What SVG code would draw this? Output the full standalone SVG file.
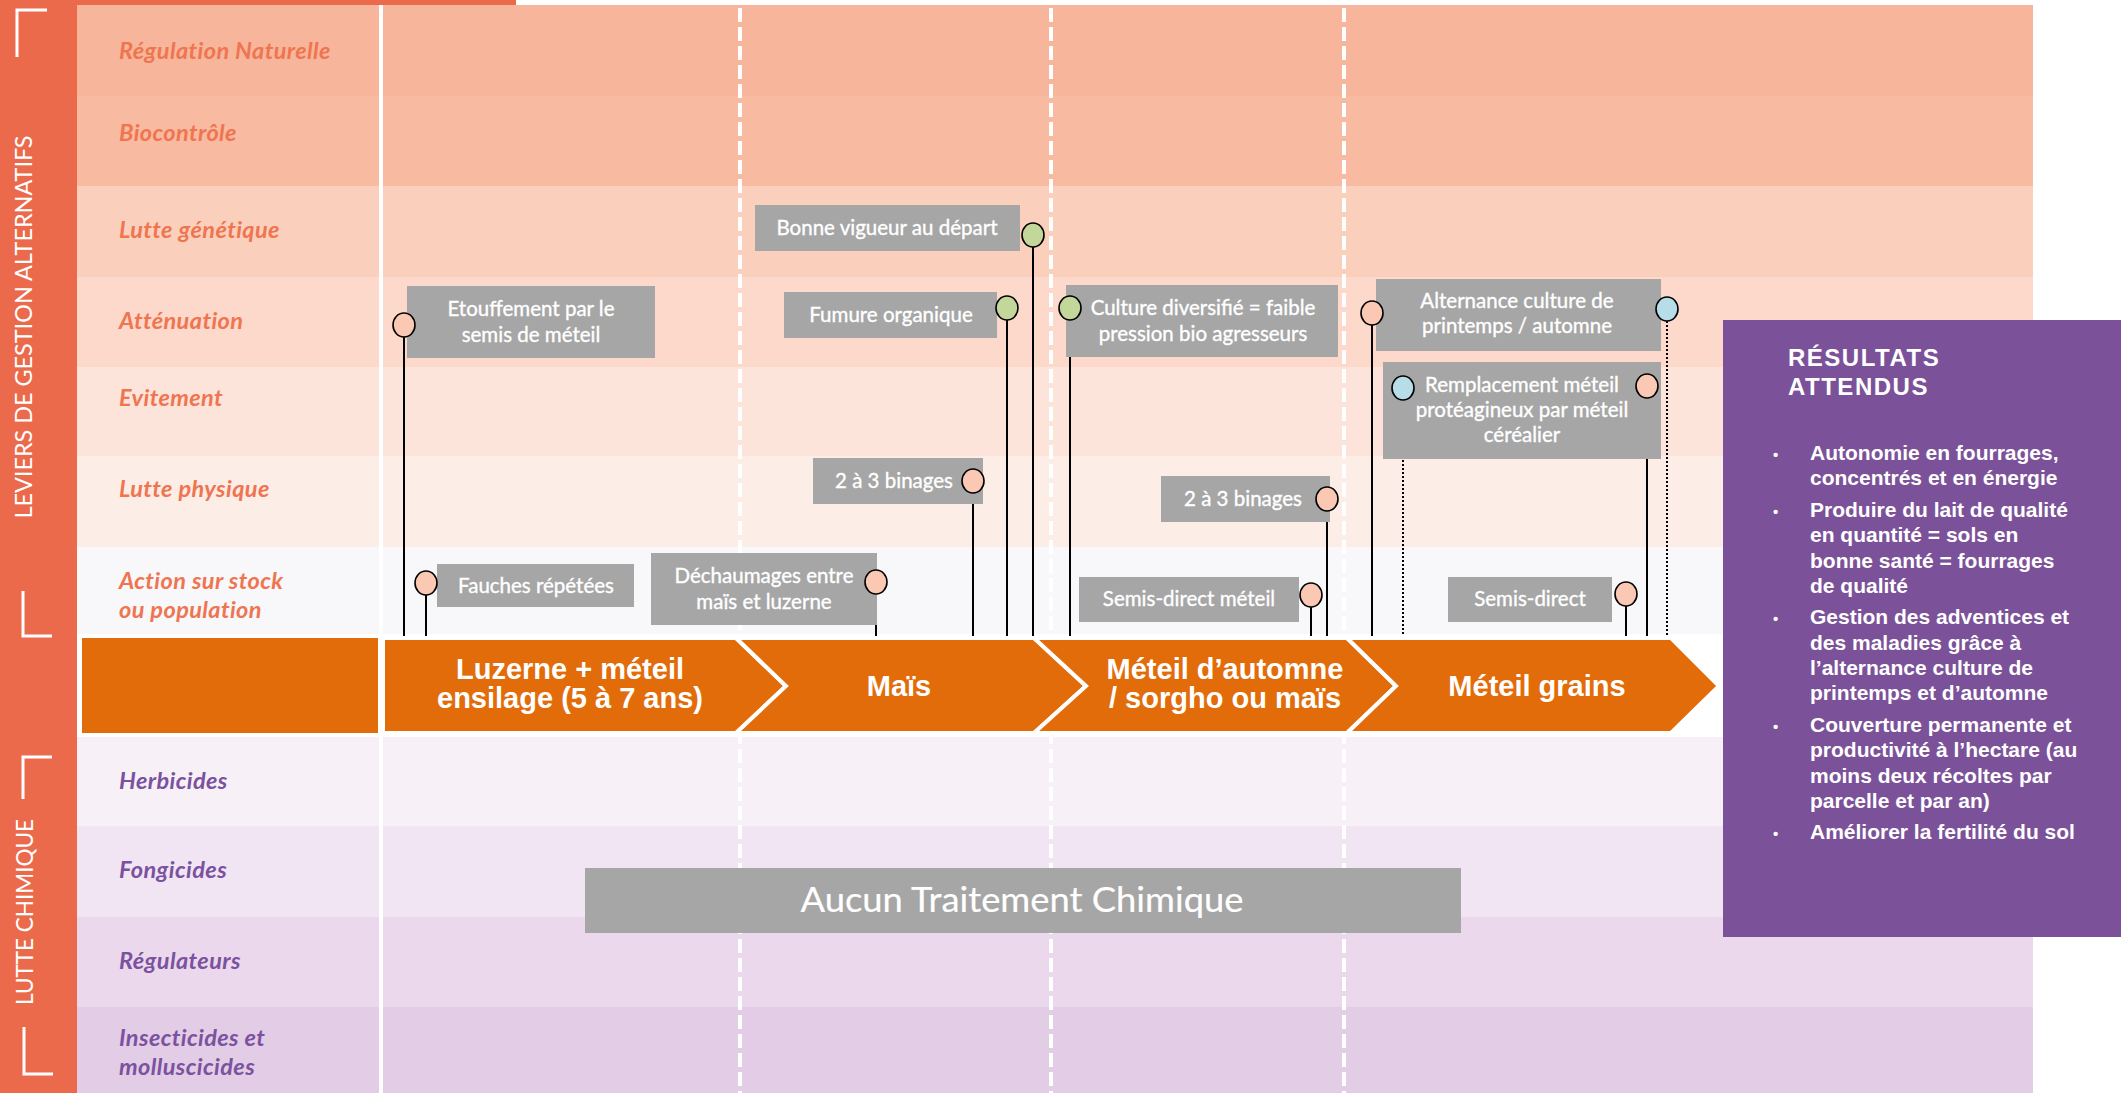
<svg xmlns="http://www.w3.org/2000/svg" width="2121" height="1093" viewBox="0 0 2121 1093">
<defs>
<style>
.lbl{font-family:Lato,"Open Sans",sans-serif;font-style:italic;font-weight:700;font-size:23.5px;letter-spacing:0.4px}
.lo{fill:#EF7550}
.lp{fill:#7A52A0}
.side{font-family:Lato,"Open Sans",sans-serif;font-size:23px;fill:#fff;text-anchor:middle}
.brk{fill:none;stroke:#fff;stroke-width:3}
.dash{stroke:#fff;stroke-width:4;stroke-dasharray:14 5}
.chev{fill:#E36C0A;stroke:#fff;stroke-width:4;stroke-linejoin:miter}
.ct{font-family:"Liberation Sans",Arial,sans-serif;font-weight:700;font-size:29px;fill:#fff;text-anchor:middle}
.box{fill:#A6A6A6}
.bt{font-family:Lato,"Open Sans",sans-serif;font-size:20.5px;fill:#fff;stroke:#fff;stroke-width:0.35;text-anchor:middle}
.ln{stroke:#000;stroke-width:2;fill:none}
.dot{stroke:#000;stroke-width:2;stroke-dasharray:2 2;fill:none}
.pk{fill:#FAC8B3;stroke:#000;stroke-width:1.6}
.gr{fill:#C4D79B;stroke:#000;stroke-width:1.6}
.bl{fill:#B7DDE8;stroke:#000;stroke-width:1.6}
.rt{font-family:"Liberation Sans",Arial,sans-serif;font-weight:700;fill:#fff}
</style>
</defs>
<rect x="0" y="0" width="2121" height="1093" fill="#fff"/>
<g id="rows">
<rect x="77" y="5" width="1956" height="91" fill="#F7B69B"/>
<rect x="77" y="96" width="1956" height="90" fill="#F8BAA0"/>
<rect x="77" y="186" width="1956" height="91" fill="#FAD0BD"/>
<rect x="77" y="277" width="1956" height="90" fill="#FCD9CA"/>
<rect x="77" y="367" width="1956" height="89" fill="#FDE4DB"/>
<rect x="77" y="456" width="1956" height="91" fill="#FCEDE6"/>
<rect x="77" y="547" width="1956" height="87" fill="#F8F7FA"/>
<rect x="77" y="737" width="1956" height="89" fill="#F7F0F7"/>
<rect x="77" y="826" width="1956" height="91" fill="#F1E5F3"/>
<rect x="77" y="917" width="1956" height="90" fill="#EBD8EC"/>
<rect x="77" y="1007" width="1956" height="86" fill="#E3CCE5"/>
</g>
<g id="side-bar">
<rect x="0" y="0" width="77" height="1093" fill="#EC6A4C"/>
<rect x="0" y="0" width="516" height="5" fill="#EC6A4C"/>
<path class="brk" d="M47,10 H17 V57"/>
<path class="brk" d="M23,591 V636 H52"/>
<path class="brk" d="M52,757 H23 V799"/>
<path class="brk" d="M24,1027 V1074 H53"/>
<text class="side" transform="translate(32,327) rotate(-90)" textLength="383" lengthAdjust="spacingAndGlyphs">LEVIERS DE GESTION ALTERNATIFS</text>
<text class="side" transform="translate(33,912) rotate(-90)" textLength="186" lengthAdjust="spacingAndGlyphs">LUTTE CHIMIQUE</text>
</g>
<g id="row-labels">
<text class="lbl lo" x="119" y="59">Régulation Naturelle</text>
<text class="lbl lo" x="119" y="141">Biocontrôle</text>
<text class="lbl lo" x="119" y="238">Lutte génétique</text>
<text class="lbl lo" x="119" y="329">Atténuation</text>
<text class="lbl lo" x="119" y="406">Evitement</text>
<text class="lbl lo" x="119" y="497">Lutte physique</text>
<text class="lbl lo" x="119" y="589">Action sur stock</text>
<text class="lbl lo" x="119" y="618">ou population</text>
<text class="lbl lp" x="119" y="789">Herbicides</text>
<text class="lbl lp" x="119" y="878">Fongicides</text>
<text class="lbl lp" x="119" y="969">Régulateurs</text>
<text class="lbl lp" x="119" y="1046">Insecticides et</text>
<text class="lbl lp" x="119" y="1075">molluscicides</text>
</g>
<g id="separators">
<line class="dash" x1="740" y1="8" x2="740" y2="1093"/>
<line class="dash" x1="1051" y1="8" x2="1051" y2="1093"/>
<line class="dash" x1="1344" y1="8" x2="1344" y2="1093"/>
<line x1="381" y1="5" x2="381" y2="1093" stroke="#fff" stroke-width="4"/>
</g>
<g id="timeline">
<rect x="79" y="636" width="1646" height="100" fill="#fff"/>
<rect x="82" y="638" width="296" height="95" fill="#E36C0A"/>
<g id="crop-luzerne">
<polygon class="chev" points="383,638 736,638 786,686 736,733 383,733"/>
<text class="ct" x="570" y="679">Luzerne + méteil</text>
<text class="ct" x="570" y="708">ensilage (5 à 7 ans)</text>
</g>
<g id="crop-mais">
<polygon class="chev" points="736,638 1034,638 1086,686 1034,733 736,733 786,686"/>
<text class="ct" x="899" y="696">Maïs</text>
</g>
<g id="crop-meteil-automne">
<polygon class="chev" points="1034,638 1347,638 1396,686 1347,733 1034,733 1086,686"/>
<text class="ct" x="1225" y="679">Méteil d’automne</text>
<text class="ct" x="1225" y="708">/ sorgho ou maïs</text>
</g>
<g id="crop-meteil-grains">
<polygon class="chev" points="1347,638 1671,638 1719,686 1671,733 1347,733 1396,686"/>
<text class="ct" x="1537" y="696">Méteil grains</text>
</g>
</g>
<g id="aucun-traitement">
<rect class="box" x="585" y="868" width="876" height="65"/>
<text class="bt" x="1022" y="912" style="font-size:35px;stroke-width:0.2" textLength="443" lengthAdjust="spacingAndGlyphs">Aucun Traitement Chimique</text>
</g>
<g id="connectors">
<line class="ln" x1="404" y1="325" x2="404" y2="636"/>
<line class="ln" x1="426" y1="583" x2="426" y2="636"/>
<line class="ln" x1="876" y1="582" x2="876" y2="636"/>
<line class="ln" x1="1033" y1="235" x2="1033" y2="636"/>
<line class="ln" x1="1007" y1="308" x2="1007" y2="636"/>
<line class="ln" x1="973" y1="481" x2="973" y2="636"/>
<line class="ln" x1="1070" y1="308" x2="1070" y2="636"/>
<line class="ln" x1="1327" y1="499" x2="1327" y2="636"/>
<line class="ln" x1="1311" y1="595" x2="1311" y2="636"/>
<line class="ln" x1="1372" y1="313" x2="1372" y2="636"/>
<line class="dot" x1="1667" y1="309" x2="1667" y2="636"/>
<line class="dot" x1="1403" y1="388" x2="1403" y2="636"/>
<line class="ln" x1="1647" y1="386" x2="1647" y2="636"/>
<line class="ln" x1="1626" y1="594" x2="1626" y2="636"/>
</g>
<g id="etouffement">
<rect class="box" x="407" y="286" width="248" height="72"/>
<text class="bt" x="531" y="316">Etouffement par le</text>
<text class="bt" x="531" y="342">semis de méteil</text>
<ellipse class="pk" cx="404" cy="325" rx="11" ry="12"/>
</g>
<g id="fauches">
<rect class="box" x="437" y="564" width="197" height="43"/>
<text class="bt" x="536" y="593">Fauches répétées</text>
<ellipse class="pk" cx="426" cy="583" rx="11" ry="12"/>
</g>
<g id="dechaumages">
<rect class="box" x="651" y="553" width="226" height="72"/>
<text class="bt" x="764" y="583">Déchaumages entre</text>
<text class="bt" x="764" y="609">maïs et luzerne</text>
<ellipse class="pk" cx="876" cy="582" rx="11" ry="12"/>
</g>
<g id="bonne-vigueur">
<rect class="box" x="755" y="205" width="265" height="46"/>
<text class="bt" x="887" y="235">Bonne vigueur au départ</text>
<ellipse class="gr" cx="1033" cy="235" rx="11" ry="12"/>
</g>
<g id="fumure">
<rect class="box" x="784" y="292" width="213" height="46"/>
<text class="bt" x="891" y="322">Fumure organique</text>
<ellipse class="gr" cx="1007" cy="308" rx="11" ry="12"/>
</g>
<g id="binages-1">
<rect class="box" x="813" y="458" width="170" height="46"/>
<text class="bt" x="894" y="488">2 à 3 binages</text>
<ellipse class="pk" cx="973" cy="481" rx="11" ry="12"/>
</g>
<g id="culture-diversifie">
<rect class="box" x="1066" y="285" width="272" height="72"/>
<text class="bt" x="1203" y="315">Culture diversifié = faible</text>
<text class="bt" x="1203" y="341">pression bio agresseurs</text>
<ellipse class="gr" cx="1070" cy="308" rx="11" ry="12"/>
</g>
<g id="binages-2">
<rect class="box" x="1161" y="476" width="169" height="46"/>
<text class="bt" x="1243" y="506">2 à 3 binages</text>
<ellipse class="pk" cx="1327" cy="499" rx="11" ry="12"/>
</g>
<g id="semis-direct-meteil">
<rect class="box" x="1079" y="577" width="220" height="45"/>
<text class="bt" x="1189" y="606">Semis-direct méteil</text>
<ellipse class="pk" cx="1311" cy="595" rx="11" ry="12"/>
</g>
<g id="alternance">
<rect class="box" x="1376" y="279" width="285" height="72"/>
<text class="bt" x="1517" y="308">Alternance culture de</text>
<text class="bt" x="1517" y="333">printemps / automne</text>
<ellipse class="pk" cx="1372" cy="313" rx="11" ry="12"/>
<ellipse class="bl" cx="1667" cy="309" rx="11" ry="12"/>
</g>
<g id="remplacement">
<rect class="box" x="1383" y="362" width="278" height="97"/>
<text class="bt" x="1522" y="392">Remplacement méteil</text>
<text class="bt" x="1522" y="417">protéagineux par méteil</text>
<text class="bt" x="1522" y="442">céréalier</text>
<ellipse class="bl" cx="1403" cy="388" rx="11" ry="12"/>
<ellipse class="pk" cx="1647" cy="386" rx="11" ry="12"/>
</g>
<g id="semis-direct">
<rect class="box" x="1448" y="577" width="164" height="45"/>
<text class="bt" x="1530" y="606">Semis-direct</text>
<ellipse class="pk" cx="1626" cy="594" rx="11" ry="12"/>
</g>
<g id="resultats">
<rect x="1723" y="320" width="398" height="617" fill="#7B5299"/>
<text class="rt" x="1788" y="366" style="font-size:24px;letter-spacing:1.5px">RÉSULTATS</text>
<text class="rt" x="1788" y="395" style="font-size:24px;letter-spacing:1.5px">ATTENDUS</text>
<g class="rt" style="font-size:21px">
<text x="1773" y="460" style="font-size:15px">•</text>
<text x="1810" y="460">Autonomie en fourrages,</text>
<text x="1810" y="485">concentrés et en énergie</text>
<text x="1773" y="517" style="font-size:15px">•</text>
<text x="1810" y="517">Produire du lait de qualité</text>
<text x="1810" y="542">en quantité = sols en</text>
<text x="1810" y="568">bonne santé = fourrages</text>
<text x="1810" y="593">de qualité</text>
<text x="1773" y="624" style="font-size:15px">•</text>
<text x="1810" y="624">Gestion des adventices et</text>
<text x="1810" y="650">des maladies grâce à</text>
<text x="1810" y="675">l’alternance culture de</text>
<text x="1810" y="700">printemps et d’automne</text>
<text x="1773" y="732" style="font-size:15px">•</text>
<text x="1810" y="732">Couverture permanente et</text>
<text x="1810" y="757">productivité à l’hectare (au</text>
<text x="1810" y="783">moins deux récoltes par</text>
<text x="1810" y="808">parcelle et par an)</text>
<text x="1773" y="839" style="font-size:15px">•</text>
<text x="1810" y="839">Améliorer la fertilité du sol</text>
</g>
</g>
</svg>
